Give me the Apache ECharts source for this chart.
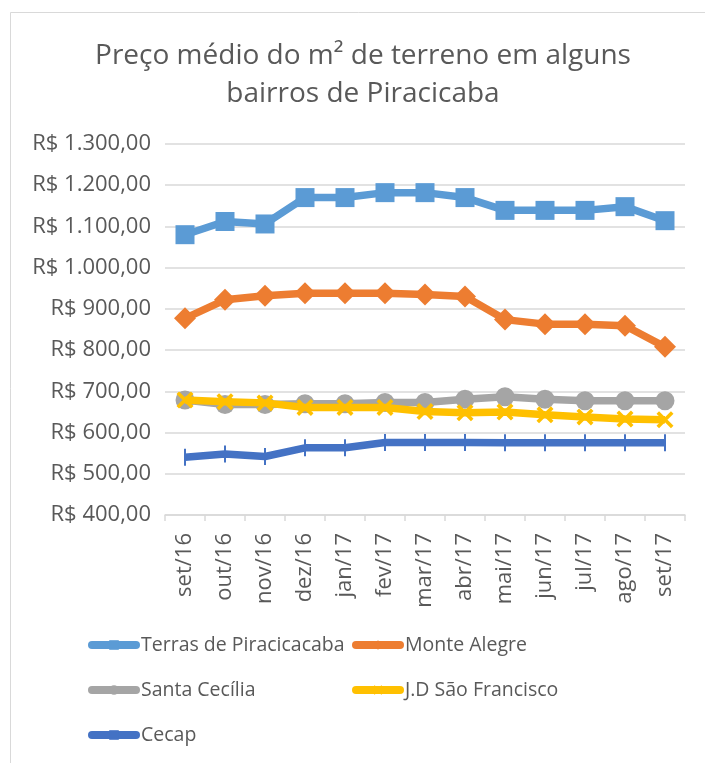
<!DOCTYPE html>
<html><head><meta charset="utf-8">
<script src="https://cdn.jsdelivr.net/npm/echarts@6/dist/echarts.min.js"></script>
<style>html,body{margin:0;padding:0;background:#fff}#c{width:705px;height:763px}</style>
</head><body><div id="c"></div>
<script>
const titleLines = ['Preço médio do m² de terreno em alguns', 'bairros de Piracicaba'];
const categories = ['set/16','out/16','nov/16','dez/16','jan/17','fev/17','mar/17','abr/17','mai/17','jun/17','jul/17','ago/17','set/17'];
const seriesNames = ['Terras de Piracicacaba','Monte Alegre','Santa Cecília','J.D São Francisco','Cecap'];
const terras = [1080,1112,1106,1170,1170,1182,1182,1170,1139,1139,1139,1148,1114];
const monteAlegre = [877,922,932,938,938,938,935,930,874,863,863,859,808];
const santaCecilia = [679,668,668,670,670,673,673,681,687,681,677,677,677];
const jdSaoFrancisco = [679,675,672,661,661,661,651,648,650,643,638,633,631];
const cecap = [540,548,542,563,563,576,576,576,575,575,575,575,575];
const yMin = 400, yMax = 1300, yStep = 100;

const FONT = '"Open Sans"';
const TXT = '#595959';
const xPath = 'path://M0,1.5L1.5,0L10,8.5L8.5,10ZM8.5,0L10,1.5L1.5,10L0,8.5Z';
const fmt = v => 'R$ ' + v.toLocaleString('pt-BR', {minimumFractionDigits:2, maximumFractionDigits:2});

const styles = [
  {color:'#5b9bd5', symbol:'rect', size:19, data:terras},
  {color:'#ed7d31', symbol:'diamond', size:22, data:monteAlegre},
  {color:'#a5a5a5', symbol:'circle', size:19, data:santaCecilia},
  {color:'#ffc000', symbol:xPath, size:17, data:jdSaoFrancisco},
  {color:'#4472c4', symbol:'rect', size:[2,17], data:cecap}
];

const series = styles.map((s,i)=>({
  name: seriesNames[i], type:'line', data:s.data,
  symbol:s.symbol, symbolSize:s.size, showSymbol:true,
  lineStyle:{color:s.color, width:7.5},
  itemStyle:{color:s.color},
  emphasis:{disabled:true}, animation:false, z:2+i
}));

const legendPos = [
  {left:83, top:630},{left:347, top:630},
  {left:83, top:675},{left:347, top:675},
  {left:83, top:720}
];
const legends = legendPos.map((p,i)=>({
  data:[seriesNames[i]], left:p.left, top:p.top, itemWidth:44, itemHeight:12,
  selectedMode:false, itemGap:0,
  lineStyle:{width:8, cap:'round'},
  textStyle:{color:TXT, fontSize:19.5, fontFamily:FONT, padding:[0,0,0,0]}
}));

const chart = echarts.init(document.getElementById('c'), null, {renderer:'canvas'});
chart.setOption({
  animation:false,
  backgroundColor:'#fff',
  graphic:[
    {type:'rect', shape:{x:10.5, y:12.5, width:800, height:800},
      style:{fill:'none', stroke:'#d9d9d9', lineWidth:1}, silent:true},
    {type:'text', x:363, y:56, style:{text:titleLines[0], fill:TXT, font:'28px "Open Sans"', align:'center', verticalAlign:'middle'}},
    {type:'text', x:363, y:94, style:{text:titleLines[1], fill:TXT, font:'28px "Open Sans"', align:'center', verticalAlign:'middle'}}
  ],
  legend: legends,
  grid:{left:165, right:20, top:144, bottom:248, containLabel:false},
  xAxis:{type:'category', data:categories, boundaryGap:true,
    axisLine:{lineStyle:{color:'#d9d9d9', width:1.5}},
    axisTick:{show:true, length:6, lineStyle:{color:'#d9d9d9', width:1.5}},
    axisLabel:{rotate:90, margin:18, color:TXT, fontSize:22, fontFamily:FONT}},
  yAxis:{type:'value', min:yMin, max:yMax, interval:yStep,
    axisLine:{show:false}, axisTick:{show:false},
    splitLine:{lineStyle:{color:'#d9d9d9', width:1.5}},
    axisLabel:{formatter:fmt, color:TXT, fontSize:22, fontFamily:FONT, margin:14}},
  series: series
});
</script></body></html>
